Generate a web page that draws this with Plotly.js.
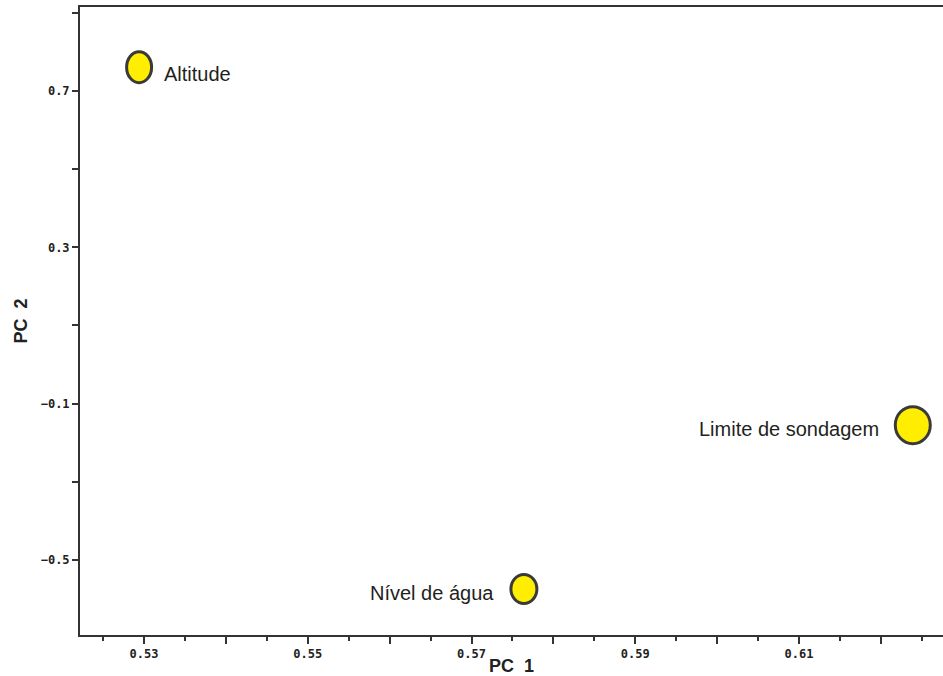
<!DOCTYPE html>
<html>
<head>
<meta charset="utf-8">
<script src="https://cdn.plot.ly/plotly-3.0.1.min.js"></script>
<style>
  html, body { margin: 0; padding: 0; background: #fff; }
  #chart { width: 943px; height: 676px; }
</style>
</head>
<body>
<div id="chart"></div>
<script>
// Loadings of the three variables on the first two principal components
const variables = ['Altitude', 'Nível de água', 'Limite de sondagem'];
const pc1 = [0.5294, 0.5764, 0.6239];
const pc2 = [0.761, -0.574, -0.155];

// Axis ticks
const xTickVals = [0.53, 0.54, 0.55, 0.56, 0.57, 0.58, 0.59, 0.60, 0.61, 0.62];
const xTickText = ['0.53', '', '0.55', '', '0.57', '', '0.59', '', '0.61', ''];
const xMinorVals = [0.525, 0.535, 0.545, 0.555, 0.565, 0.575, 0.585, 0.595, 0.605, 0.615, 0.625];
const yTickVals = [0.9, 0.7, 0.5, 0.3, 0.1, -0.1, -0.3, -0.5, -0.7];
const yTickText = ['', '0.7', '', '0.3', '', '\u22120.1', '', '\u22120.5', ''];

// Marker half-widths / half-heights in pixels and label placement (style only)
const markerRx = [12.5, 13, 17.5];
const markerRy = [15.5, 14.5, 18.5];
const labelSide = ['right', 'left', 'left'];
const labelGap = [23, 28, 32];
const labelDy = [-7, -4, -4];

const ink = '#333333';
const tickFont = { family: 'DejaVu Sans Mono, monospace', size: 12, color: '#222', weight: 'bold' };
const labelFont = { family: 'Liberation Sans, Arial, sans-serif', size: 20, color: '#231f20' };
const titleFont = { family: 'Liberation Sans, Arial, sans-serif', size: 18, color: '#222', weight: 'bold' };

const shapes = pc1.map((x, i) => ({
  type: 'circle',
  xref: 'x', yref: 'y',
  xsizemode: 'pixel', ysizemode: 'pixel',
  xanchor: x, yanchor: pc2[i],
  x0: -markerRx[i], x1: markerRx[i],
  y0: -markerRy[i], y1: markerRy[i],
  fillcolor: '#ffee00',
  line: { color: '#3a3a3a', width: 3 },
  layer: 'above'
}));

const annotations = pc1.map((x, i) => ({
  x: x, y: pc2[i], xref: 'x', yref: 'y',
  text: variables[i],
  showarrow: false,
  xanchor: labelSide[i] === 'right' ? 'left' : 'right',
  yanchor: 'middle',
  xshift: labelSide[i] === 'right' ? labelGap[i] : -labelGap[i],
  yshift: labelDy[i],
  font: labelFont
}));

const trace = {
  x: pc1, y: pc2, text: variables,
  type: 'scatter', mode: 'markers',
  marker: { size: 1, opacity: 0 },
  hoverinfo: 'text',
  showlegend: false
};

const layout = {
  width: 943, height: 676,
  margin: { l: 80, r: 0, t: 7, b: 41, pad: 0 },
  paper_bgcolor: '#ffffff', plot_bgcolor: '#ffffff',
  showlegend: false,
  xaxis: {
    range: [0.52218, 0.62759],
    showgrid: false, zeroline: false,
    showline: true, linecolor: ink, linewidth: 2, mirror: true,
    ticks: 'outside', ticklen: 7, tickwidth: 2, tickcolor: ink,
    tickmode: 'array', tickvals: xTickVals, ticktext: xTickText,
    tickfont: tickFont,
    minor: { tickmode: 'array', tickvals: xMinorVals,
             ticks: 'outside', ticklen: 4, tickwidth: 2, tickcolor: ink, showgrid: false },
    title: { text: 'PC  1', font: titleFont, standoff: 7 }
  },
  yaxis: {
    range: [-0.692, 0.915],
    showgrid: false, zeroline: false,
    showline: true, linecolor: ink, linewidth: 2,
    ticks: 'outside', ticklen: 6, tickwidth: 2, tickcolor: ink,
    tickmode: 'array', tickvals: yTickVals, ticktext: yTickText,
    tickfont: tickFont,
    title: { text: 'PC  2', font: titleFont, standoff: 8 }
  },
  shapes: shapes,
  annotations: annotations
};

Plotly.newPlot('chart', [trace], layout, { displayModeBar: false, staticPlot: true });
</script>
</body>
</html>
